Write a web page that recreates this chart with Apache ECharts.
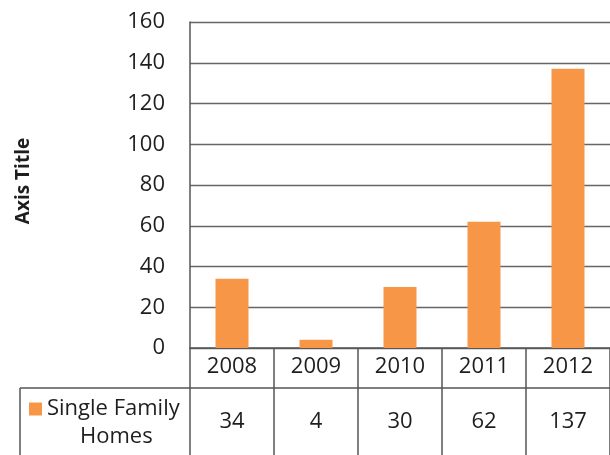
<!DOCTYPE html>
<html><head><meta charset="utf-8">
<script src="https://cdn.jsdelivr.net/npm/echarts@6/dist/echarts.min.js"></script>
<style>html,body{margin:0;padding:0;background:#fff}#c{width:610px;height:455px}</style>
</head><body><div id="c"></div>
<script>
const categories = ['2008','2009','2010','2011','2012'];
const seriesName = 'Single Family Homes';
const homes = [34, 4, 30, 62, 137];
const yTicks = {min: 0, max: 160, interval: 20};
const axisTitle = 'Axis Title';

const FONT = 'Open Sans';
const LINE = '#555';
const FS = 22;
const chart = echarts.init(document.getElementById('c'), null, {renderer: 'canvas'});
chart.setOption({
  animation: false,
  textStyle: {fontFamily: FONT},
  grid: {left: 190, top: 22, bottom: 107, width: 423},
  legend: {
    data: [seriesName], left: 29, top: 398, padding: 0, itemWidth: 13, itemHeight: 13,
    icon: 'rect', itemGap: 0,
    formatter: () => 'Single Family',
    textStyle: {fontFamily: FONT, fontSize: FS, color: '#1e1e1e'}
  },
  graphic: [
    {type: 'text', left: 80, top: 426, style: {text: 'Homes', fontFamily: FONT, fontSize: FS, fill: '#1e1e1e'}},
    {type: 'line', shape: {x1: 20, y1: 388, x2: 190, y2: 388}, style: {stroke: LINE, lineWidth: 1.5}},
    {type: 'line', shape: {x1: 20, y1: 388, x2: 20, y2: 460}, style: {stroke: LINE, lineWidth: 1.5}}
  ],
  xAxis: [
    {type: 'category', data: categories, position: 'bottom',
     axisLine: {lineStyle: {color: LINE, width: 1.5}},
     axisTick: {show: true, length: 40, lineStyle: {color: LINE, width: 1.5}},
     axisLabel: {fontFamily: FONT, fontSize: FS, color: '#1e1e1e', margin: 8}},
    {type: 'category', data: homes.map(String), position: 'bottom', offset: 40,
     axisLine: {lineStyle: {color: LINE, width: 1.5}},
     axisTick: {show: true, length: 80, lineStyle: {color: LINE, width: 1.5}},
     axisLabel: {fontFamily: FONT, fontSize: FS, color: '#1e1e1e', margin: 23}}
  ],
  yAxis: {
    type: 'value', min: yTicks.min, max: yTicks.max, interval: yTicks.interval,
    name: axisTitle, nameLocation: 'middle', nameRotate: 90, nameGap: 157,
    nameTextStyle: {fontFamily: FONT, fontSize: 19, fontWeight: 'bold', color: '#1e1e1e', padding: [0, 0, 0, 8]},
    axisLine: {show: true, lineStyle: {color: LINE, width: 1.5}},
    axisTick: {show: false},
    axisLabel: {fontFamily: FONT, fontSize: FS, color: '#1e1e1e', margin: 25},
    splitLine: {lineStyle: {color: '#666', width: 1.3}}
  },
  series: [{
    name: seriesName, type: 'bar', data: homes, xAxisIndex: 0,
    barWidth: 33, itemStyle: {color: '#F79646'}
  }]
});
</script></body></html>
